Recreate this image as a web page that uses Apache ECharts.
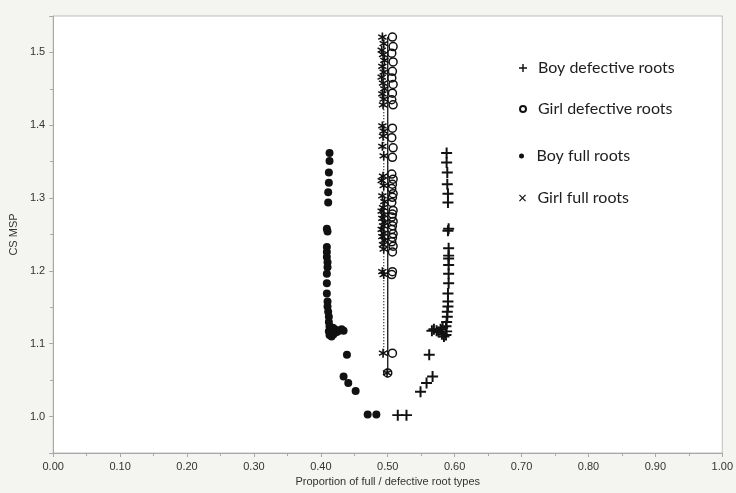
<!DOCTYPE html>
<html>
<head>
<meta charset="utf-8">
<title>CS MSP vs proportion of root types</title>
<script src="https://cdn.jsdelivr.net/npm/echarts@6/dist/echarts.min.js"></script>
<style>
  html, body { margin: 0; padding: 0; background: #f4f4f0; }
  #chart { width: 736px; height: 493px; }
</style>
</head>
<body>
<div id="chart"></div>
<script>
// Boy full roots (filled dots)
const boyFullX = [0.413, 0.413, 0.412, 0.412, 0.411, 0.411, 0.409, 0.410, 0.409, 0.409, 0.409, 0.410,
  0.410, 0.409, 0.409, 0.409, 0.410, 0.410, 0.411, 0.412, 0.412, 0.413, 0.412, 0.413,
  0.416, 0.419, 0.421, 0.424, 0.427, 0.431, 0.434, 0.418,
  0.439, 0.434, 0.441, 0.452, 0.470, 0.483];
const boyFullY = [1.362, 1.351, 1.335, 1.321, 1.308, 1.294, 1.258, 1.254, 1.233, 1.226, 1.219, 1.212,
  1.205, 1.196, 1.183, 1.169, 1.158, 1.151, 1.144, 1.137, 1.130, 1.124, 1.117, 1.112,
  1.110, 1.113, 1.120, 1.116, 1.118, 1.120, 1.118, 1.122,
  1.085, 1.055, 1.046, 1.035, 1.003, 1.003];

// Boy defective roots (plus)
const boyDefX = [0.588, 0.588, 0.589, 0.589, 0.590, 0.590, 0.591, 0.590, 0.591, 0.591, 0.591, 0.591,
  0.591, 0.591, 0.590, 0.590, 0.590, 0.589, 0.589, 0.588, 0.587, 0.588, 0.587,
  0.584, 0.581, 0.579, 0.576, 0.573, 0.569, 0.566, 0.582,
  0.562, 0.567, 0.558, 0.549, 0.515, 0.528];
const boyDefY = [1.362, 1.349, 1.335, 1.319, 1.306, 1.294, 1.258, 1.255, 1.231, 1.221, 1.217, 1.208,
  1.196, 1.183, 1.169, 1.158, 1.151, 1.144, 1.137, 1.130, 1.124, 1.117, 1.112,
  1.110, 1.113, 1.120, 1.116, 1.118, 1.120, 1.118, 1.122,
  1.085, 1.055, 1.046, 1.034, 1.002, 1.002];

// Girl full roots (asterisks)
const girlFullX = [0.492, 0.494, 0.491, 0.493, 0.495, 0.492, 0.494, 0.491, 0.493, 0.495, 0.492, 0.494, 0.493,
  0.492, 0.494, 0.493, 0.492, 0.494, 0.493, 0.491, 0.494, 0.492, 0.495, 0.493, 0.491,
  0.494, 0.492, 0.495, 0.493, 0.491, 0.494, 0.492, 0.495, 0.493, 0.494, 0.492, 0.494, 0.493, 0.499];
const girlFullY = [1.521, 1.512, 1.503, 1.497, 1.489, 1.481, 1.473, 1.466, 1.458, 1.450, 1.443, 1.436, 1.428,
  1.399, 1.392, 1.385, 1.371, 1.358, 1.330, 1.324, 1.317, 1.303, 1.295, 1.287, 1.282,
  1.277, 1.272, 1.267, 1.262, 1.257, 1.252, 1.247, 1.242, 1.236, 1.230, 1.199, 1.195, 1.087, 1.060];

// Girl defective roots (open circles)
const girlDefX = [0.507, 0.508, 0.506, 0.508, 0.507, 0.506, 0.508, 0.507, 0.506, 0.508,
  0.507, 0.506, 0.508, 0.507, 0.506, 0.508, 0.507, 0.506, 0.508, 0.507, 0.506, 0.508,
  0.507, 0.506, 0.508, 0.507, 0.506, 0.508, 0.507, 0.506, 0.508, 0.507, 0.507, 0.506, 0.507, 0.500];
const girlDefY = [1.521, 1.508, 1.499, 1.487, 1.474, 1.465, 1.456, 1.444, 1.435, 1.428,
  1.396, 1.383, 1.369, 1.356, 1.333, 1.326, 1.319, 1.313, 1.306, 1.301, 1.294, 1.283,
  1.278, 1.274, 1.268, 1.262, 1.257, 1.251, 1.246, 1.240, 1.234, 1.226, 1.199, 1.195, 1.087, 1.060];

// vertical connecting lines through the girl columns
const girlDefLineX = [0.500, 0.500];
const girlDefLineY = [1.060, 1.521];
const girlFullLineX = [0.494, 0.494];
const girlFullLineY = [1.087, 1.521];

const legendNames = ['Boy defective roots', 'Girl defective roots', 'Boy full roots', 'Girl full roots'];

const plusPath = 'path://M4.1,0H5.9V4.1H10V5.9H5.9V10H4.1V5.9H0V4.1H4.1Z';
const xPath = 'path://M1.96,0.97L9.03,8.04L8.04,9.03L0.97,1.96Z M9.03,1.96L1.96,9.03L0.97,8.04L8.04,0.97Z';
const starPath = 'path://M4.15,0H5.85V10H4.15Z M1.07,1.81L9.73,6.81L8.93,8.19L0.27,3.19Z M9.73,3.19L1.07,8.19L0.27,6.81L8.93,1.81Z';

function pairs(xs, ys) {
  return xs.map((x, i) => [x, ys[i]]);
}

const ink = '#111';
const legendFont = { fontFamily: 'Lato', fontSize: 16, color: '#1e1e1e' };

function oneLegend(name, top, size, icon) {
  return {
    data: [icon ? { name: name, icon: icon } : name],
    left: 519,
    top: top,
    orient: 'vertical',
    padding: 0,
    itemWidth: 20,
    itemHeight: size,
    selectedMode: false,
    textStyle: legendFont
  };
}

const chart = echarts.init(document.getElementById('chart'), null, { renderer: 'canvas' });

chart.setOption({
  backgroundColor: '#f4f4f0',
  animation: false,
  grid: {
    left: 53, right: 10, top: 16, bottom: 40,
    show: true,
    backgroundColor: '#ffffff',
    borderColor: '#bdbdbd',
    borderWidth: 1
  },
  legend: [
    oneLegend(legendNames[0], 60, 8),
    oneLegend(legendNames[1], 101, 6),
    oneLegend(legendNames[2], 148, 5),
    oneLegend(legendNames[3], 190, 7, xPath)
  ],
  xAxis: {
    type: 'value',
    min: 0,
    max: 1,
    interval: 0.1,
    name: 'Proportion of full / defective root types',
    nameLocation: 'middle',
    nameGap: 21,
    nameTextStyle: { fontFamily: 'Liberation Sans', fontSize: 11, color: '#333' },
    splitLine: { show: false },
    axisLine: { lineStyle: { color: '#a8a8a8' } },
    axisTick: { length: 4, lineStyle: { color: '#a8a8a8' } },
    minorTick: { show: true, splitNumber: 2, length: 3, lineStyle: { color: '#a8a8a8' } },
    axisLabel: {
      fontFamily: 'Liberation Sans', fontSize: 11, color: '#333', margin: 8,
      formatter: v => v.toFixed(2)
    }
  },
  yAxis: {
    type: 'value',
    min: 0.95,
    max: 1.55,
    splitNumber: 6,
    name: 'CS MSP',
    nameLocation: 'middle',
    nameGap: 30,
    nameTextStyle: { fontFamily: 'Liberation Sans', fontSize: 11, color: '#333' },
    splitLine: { show: false },
    axisLine: { show: true, lineStyle: { color: '#a8a8a8' } },
    axisTick: { show: true, length: 4, lineStyle: { color: '#a8a8a8' } },
    minorTick: { show: true, splitNumber: 2, length: 3, lineStyle: { color: '#a8a8a8' } },
    axisLabel: {
      fontFamily: 'Liberation Sans', fontSize: 11, color: '#333', margin: 8,
      showMinLabel: false, showMaxLabel: false,
      formatter: v => v.toFixed(1)
    }
  },
  series: [
    {
      name: 'Girl defective line',
      type: 'line',
      data: pairs(girlDefLineX, girlDefLineY),
      showSymbol: false,
      silent: true,
      lineStyle: { color: ink, width: 1.3 },
      z: 1
    },
    {
      name: 'Girl full line',
      type: 'line',
      data: pairs(girlFullLineX, girlFullLineY),
      showSymbol: false,
      silent: true,
      lineStyle: { color: ink, width: 1.3, type: [1, 2] },
      z: 1
    },
    {
      name: legendNames[0],
      type: 'scatter',
      data: pairs(boyDefX, boyDefY),
      symbol: plusPath,
      symbolSize: 11,
      itemStyle: { color: ink, opacity: 1 }
    },
    {
      name: legendNames[1],
      type: 'scatter',
      data: pairs(girlDefX, girlDefY),
      symbol: 'circle',
      symbolSize: 8,
      itemStyle: { color: 'rgba(255,255,255,0)', borderColor: ink, borderWidth: 1.5, opacity: 1 }
    },
    {
      name: legendNames[2],
      type: 'scatter',
      data: pairs(boyFullX, boyFullY),
      symbol: 'circle',
      symbolSize: 8,
      itemStyle: { color: ink, opacity: 1 }
    },
    {
      name: legendNames[3],
      type: 'scatter',
      data: pairs(girlFullX, girlFullY),
      symbol: starPath,
      symbolSize: 9,
      itemStyle: { color: ink, opacity: 1 }
    }
  ]
});
</script>
</body>
</html>
